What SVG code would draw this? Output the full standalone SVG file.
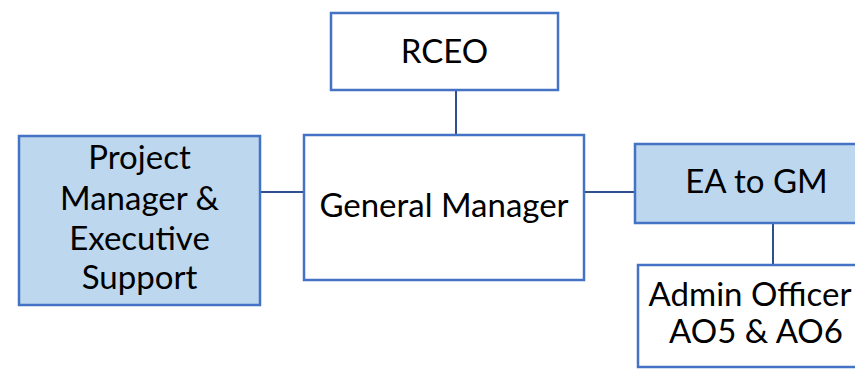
<svg xmlns="http://www.w3.org/2000/svg" width="855" height="371" viewBox="0 0 855 371">
  <style>
    .box { stroke: #4472C4; stroke-width: 2.5; }
    .plain { fill: #FFFFFF; }
    .tint { fill: #BDD7EE; }
    .lbl { font-family: Lato, "Open Sans", "Liberation Sans", sans-serif; font-size: 33px; fill: #000000; text-anchor: middle; }
    .link { stroke: #2F4F8F; stroke-width: 2; fill: none; }
  </style>
  <rect width="855" height="371" fill="#FFFFFF"/>

  <g id="connectors">
    <line class="link" x1="456" y1="90" x2="456" y2="135"/>
    <line class="link" x1="260" y1="192" x2="304" y2="192"/>
    <line class="link" x1="584" y1="192" x2="635" y2="192"/>
    <line class="link" x1="773" y1="223" x2="773" y2="265"/>
  </g>

  <g id="rceo">
    <rect class="box plain" x="331" y="13" width="227" height="77"/>
    <text class="lbl" x="444.5" y="63">RCEO</text>
  </g>

  <g id="general-manager">
    <rect class="box plain" x="304" y="135" width="280" height="145"/>
    <text class="lbl" x="444" y="217">General Manager</text>
  </g>

  <g id="project-manager">
    <rect class="box tint" x="19" y="136" width="241" height="169"/>
    <text class="lbl" x="139.5" y="169">Project</text>
    <text class="lbl" x="139.5" y="210">Manager &amp;</text>
    <text class="lbl" x="139.5" y="250">Executive</text>
    <text class="lbl" x="139.5" y="289">Support</text>
  </g>

  <g id="ea-to-gm">
    <rect class="box tint" x="635" y="144" width="240" height="79"/>
    <text class="lbl" x="756.5" y="193">EA to GM</text>
  </g>

  <g id="admin-officer">
    <rect class="box plain" x="638" y="265" width="240" height="102"/>
    <text class="lbl" x="750" y="306">Admin Officer</text>
    <text class="lbl" x="756" y="343">AO5 &amp; AO6</text>
  </g>
</svg>
